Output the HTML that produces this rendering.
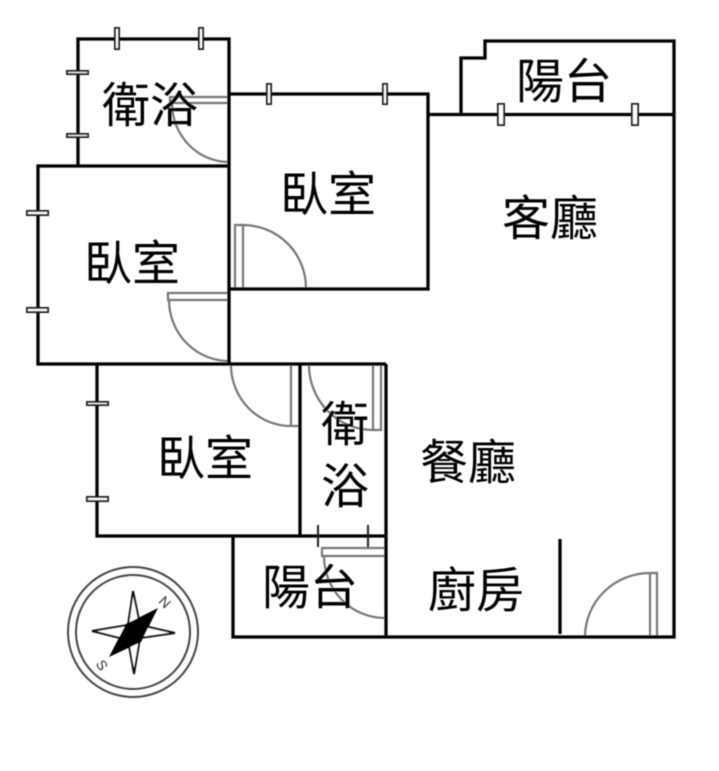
<!DOCTYPE html>
<html><head><meta charset="utf-8"><style>
html,body{margin:0;padding:0;background:#fff;width:719px;height:771px;overflow:hidden}
svg{display:block}
text{font-family:"Liberation Sans","WenQuanYi Zen Hei","Noto Sans CJK TC",sans-serif;font-size:48px;fill:#000;text-anchor:middle}
</style></head><body>
<svg width="719" height="771" viewBox="0 0 719 771" xmlns="http://www.w3.org/2000/svg">
<defs><filter id="b" x="-5%" y="-5%" width="110%" height="110%"><feGaussianBlur stdDeviation="0.4"/></filter></defs>
<g filter="url(#b)">
<g fill="none" stroke="#777" stroke-width="2.200">
<path d="M229 97H170V103H229M172 103A57 59 0 0 0 229 162"/>
<path d="M243 288V225H235V288M243 225A63 63 0 0 1 306 288"/>
<path d="M229 293H168V300H229M169 300A60 61 0 0 0 229 361"/>
<path d="M291 365V426H299M231 365A60 61 0 0 0 291 426"/>
<path d="M373 365V430H381V365M309 365A64 65 0 0 0 373 430"/>
<path d="M385 548H322V556H385M324 556A61 62 0 0 0 385 618"/>
<path d="M650 637V573H657V637M585 637A65 64 0 0 1 650 573"/>
</g>
<g fill="none" stroke="#000" stroke-width="3.300">
<path d="M78 166V39H229V364"/>
<path d="M229 166H38V364H386"/>
<path d="M229 94H428V289H229"/>
<path d="M428 114.500H674"/>
<path d="M461 114V58H485V41H674V637H233V536"/>
<path d="M386 364V637"/>
<path d="M300 364V536"/>
<path d="M97 364V536H386"/>
<path d="M560 539V634"/>
</g>
<g fill="#fff" stroke="#222" stroke-width="2">
<rect x="115" y="28" width="4" height="21"/>
<rect x="199" y="28" width="4" height="21"/>
<rect x="67" y="71" width="21" height="3"/>
<rect x="67" y="134" width="21" height="3"/>
<rect x="27" y="211" width="21" height="4"/>
<rect x="27" y="308" width="21" height="4"/>
<rect x="267" y="84" width="4" height="20"/>
<rect x="383" y="84" width="4" height="20"/>
<rect x="498" y="104" width="6" height="21"/>
<rect x="632" y="104" width="6" height="21"/>
<rect x="87" y="402" width="21" height="3"/>
<rect x="87" y="497" width="21" height="4"/>
</g>
<path d="M318 525V547M368 525V547" stroke="#222" stroke-width="2" fill="none"/>
<g>
<text x="150" y="122">衛浴</text>
<text x="564" y="98">陽台</text>
<text x="328" y="211">臥室</text>
<text x="550" y="235">客廳</text>
<text x="132" y="280">臥室</text>
<text x="205" y="475">臥室</text>
<text x="345" y="441">衛</text>
<text x="345" y="503">浴</text>
<text x="468" y="479">餐廳</text>
<text x="310" y="604">陽台</text>
<text x="476" y="607">廚房</text>
</g>
<g>
<circle cx="133" cy="632" r="65" fill="none" stroke="#444" stroke-width="2"/>
<circle cx="133" cy="632" r="57" fill="none" stroke="#444" stroke-width="2"/>
<path d="M133 591L140 625L175 633L140 638L134 674L128 640L92 631L128 625Z" fill="#fff" stroke="#111" stroke-width="2"/>
<path d="M158 608L141 642L109 657L126 624Z" fill="#000"/>
<text x="165" y="607" transform="rotate(45 165 602)" style="font-size:14px;fill:#333">N</text>
<text x="102" y="670" transform="rotate(60 102 665)" style="font-size:14px;fill:#333">S</text>
</g>
</g>
</svg>
</body></html>
